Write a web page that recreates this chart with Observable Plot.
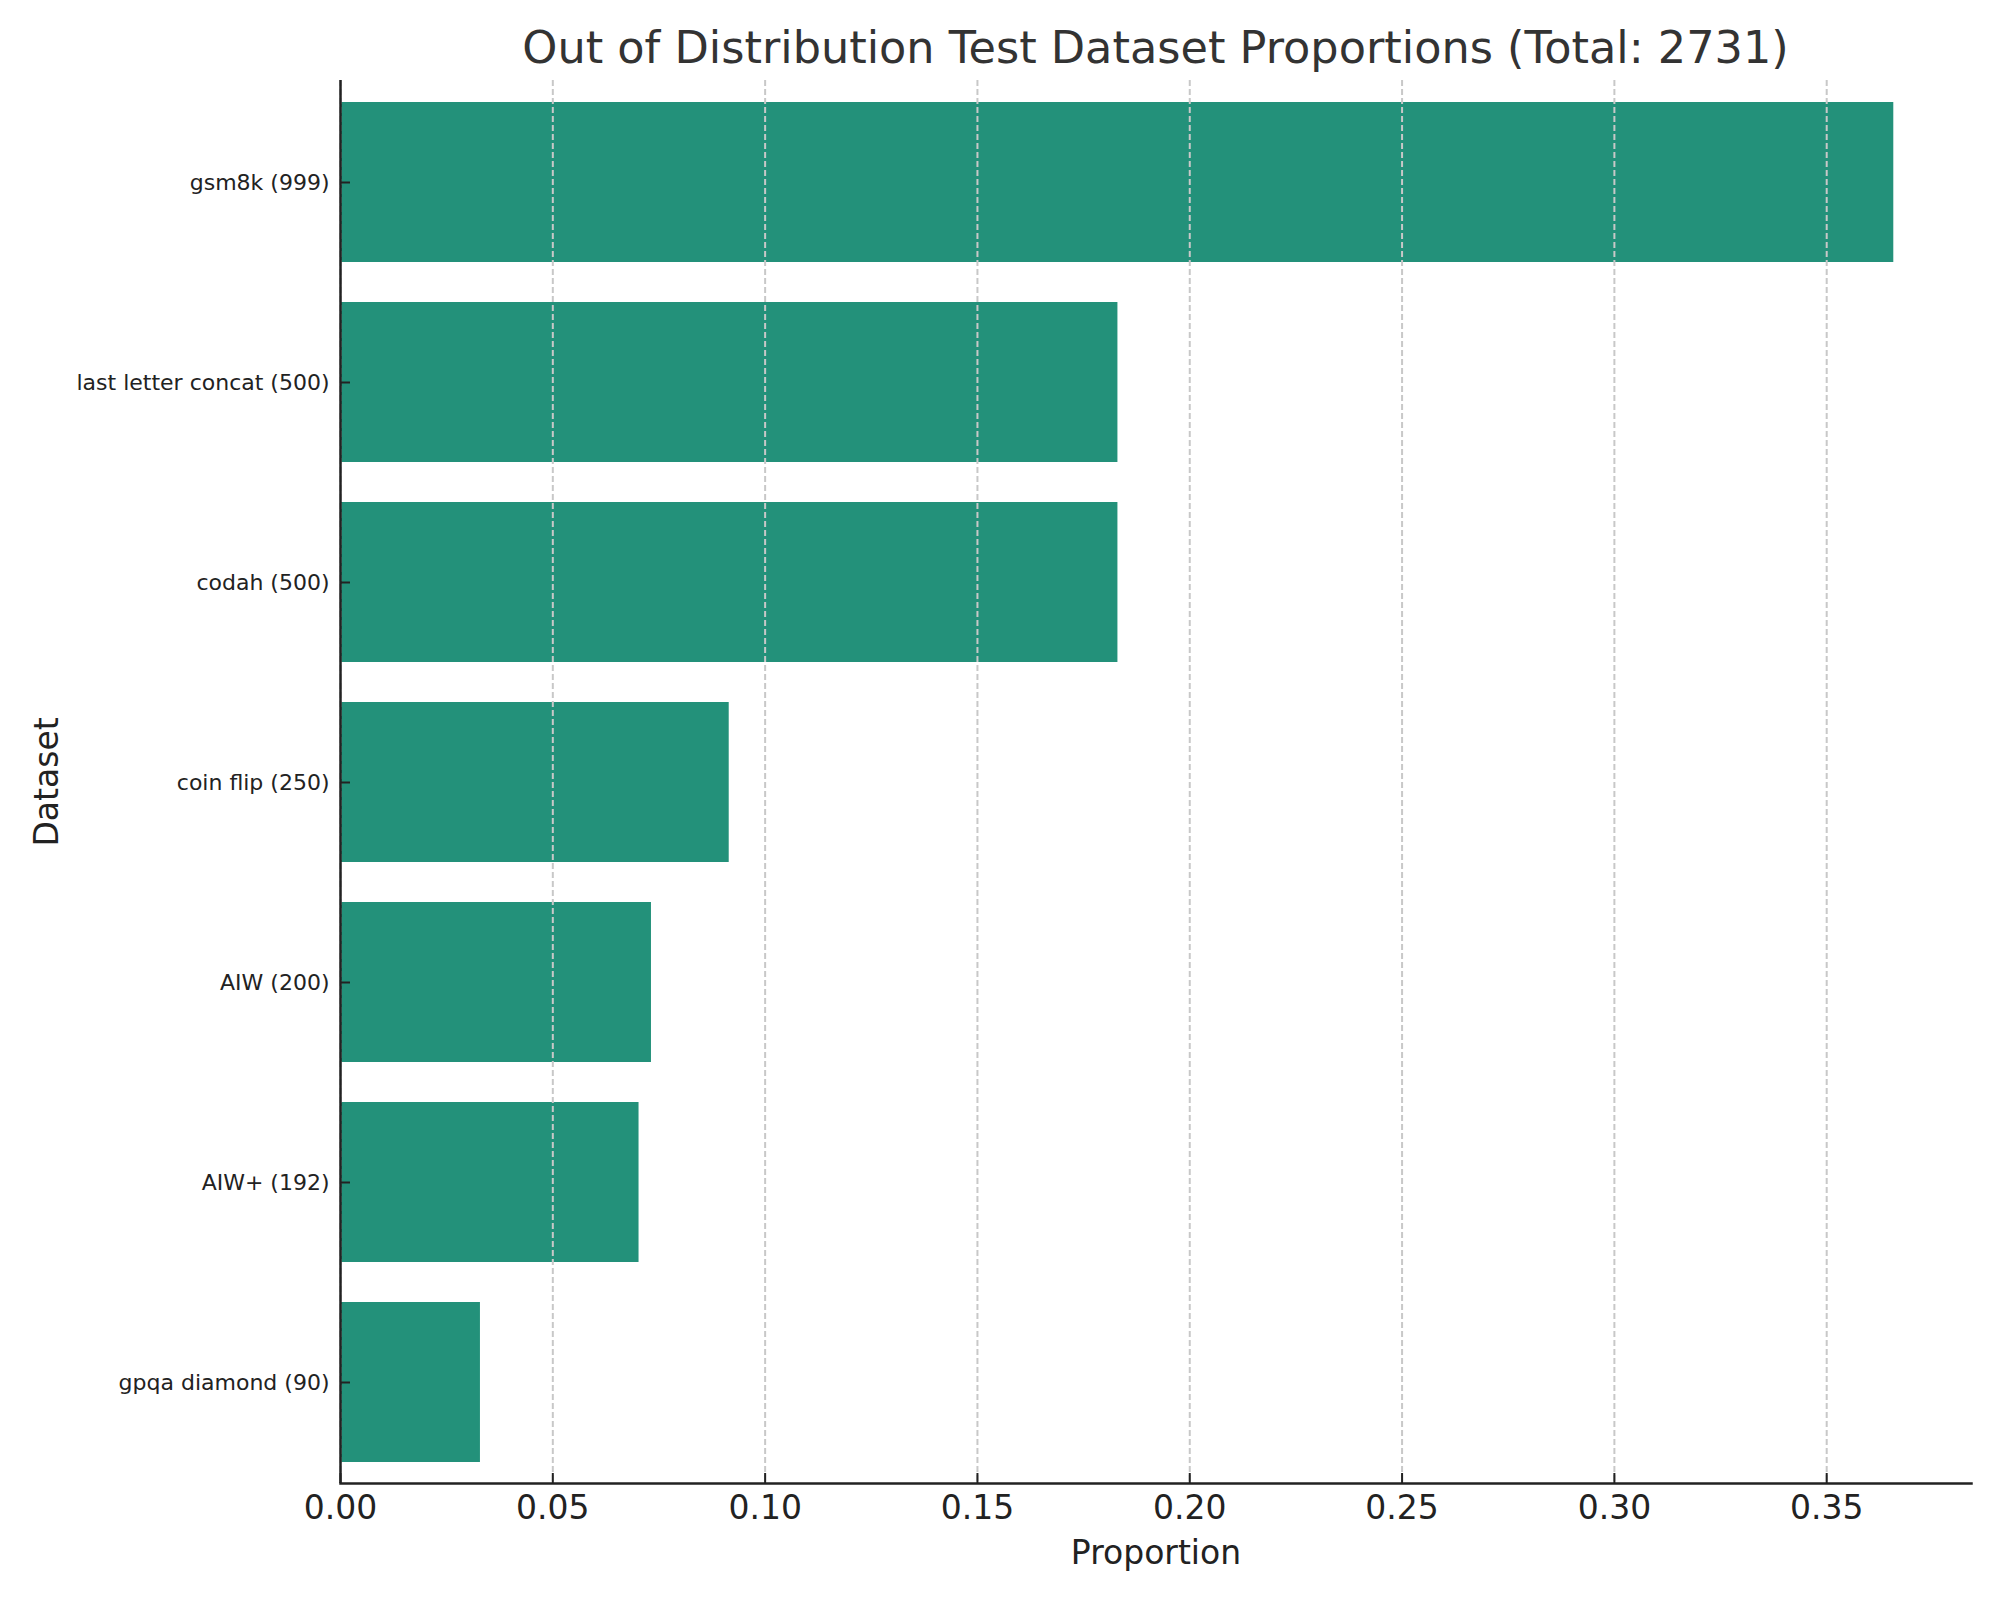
<!DOCTYPE html>
<html><head><meta charset="utf-8">
<script src="https://cdn.jsdelivr.net/npm/d3@7"></script>
<script src="https://cdn.jsdelivr.net/npm/@observablehq/plot@0.6"></script>
<style>
body{margin:0;background:#fff;font-family:"DejaVu Sans",sans-serif;}
#title{margin-left:340px;width:1631px;text-align:center;font-size:44.6px;line-height:44px;padding-top:26px;height:44px;color:#333;white-space:nowrap;}
</style></head><body>
<div id="title">Out of Distribution Test Dataset Proportions (Total: 2731)</div>
<div id="chart"></div>
<script>
const datasets = ["gsm8k", "last letter concat", "codah", "coin flip", "AIW", "AIW+", "gpqa diamond"];
const counts = [999, 500, 500, 250, 200, 192, 90];
const total = 2731;
const xTicks = [0, 0.05, 0.10, 0.15, 0.20, 0.25, 0.30, 0.35];
const xAxisLabel = "Proportion";
const yAxisLabel = "Dataset";

const rows = datasets.map((d, i) => ({label: `${d} (${counts[i]})`, proportion: counts[i] / total}));
const innerW = 2000 - 340 - 29;
const innerH = 1530 - 10 - 117;

const chart = Plot.plot({
  width: 2000,
  height: 1530,
  marginTop: 10,
  marginBottom: 117,
  marginLeft: 340,
  marginRight: 29,
  style: {fontFamily: "DejaVu Sans", color: "#222", background: "#fff"},
  x: {domain: [0, 0.3841]},
  y: {type: "band", domain: rows.map(r => r.label), paddingInner: 0.2, paddingOuter: 0.1},
  marks: [
    Plot.barX(rows, {x: "proportion", y: "label", fill: "#23917a"}),
    Plot.gridX(xTicks, {stroke: "#c8c8c8", strokeOpacity: 1, strokeWidth: 2, strokeDasharray: "6,3"}),
    Plot.ruleX(xTicks, {insetTop: innerH - 10, stroke: "#222", strokeWidth: 2}),
    Plot.ruleY(rows, {y: "label", insetRight: innerW - 10, stroke: "#222", strokeWidth: 2}),
    Plot.ruleX([0], {stroke: "#222", strokeWidth: 2.5}),
    Plot.frame({anchor: "bottom", stroke: "#222", strokeWidth: 2.5}),
    Plot.axisY({tickSize: 0, tickPadding: 11, fontSize: 22, label: null}),
    Plot.axisX(xTicks, {tickSize: 0, tickPadding: 12, fontSize: 33, tickFormat: d => d.toFixed(2), label: null}),
    Plot.text([xAxisLabel], {frameAnchor: "bottom", lineAnchor: "bottom", textAnchor: "middle", dy: 80, fontSize: 33, text: d => d, fill: "#222"}),
    Plot.text([yAxisLabel], {frameAnchor: "left", textAnchor: "middle", dx: -293, rotate: -90, fontSize: 33, text: d => d, fill: "#222"})
  ]
});
document.getElementById("chart").appendChild(chart);
</script>
</body></html>
